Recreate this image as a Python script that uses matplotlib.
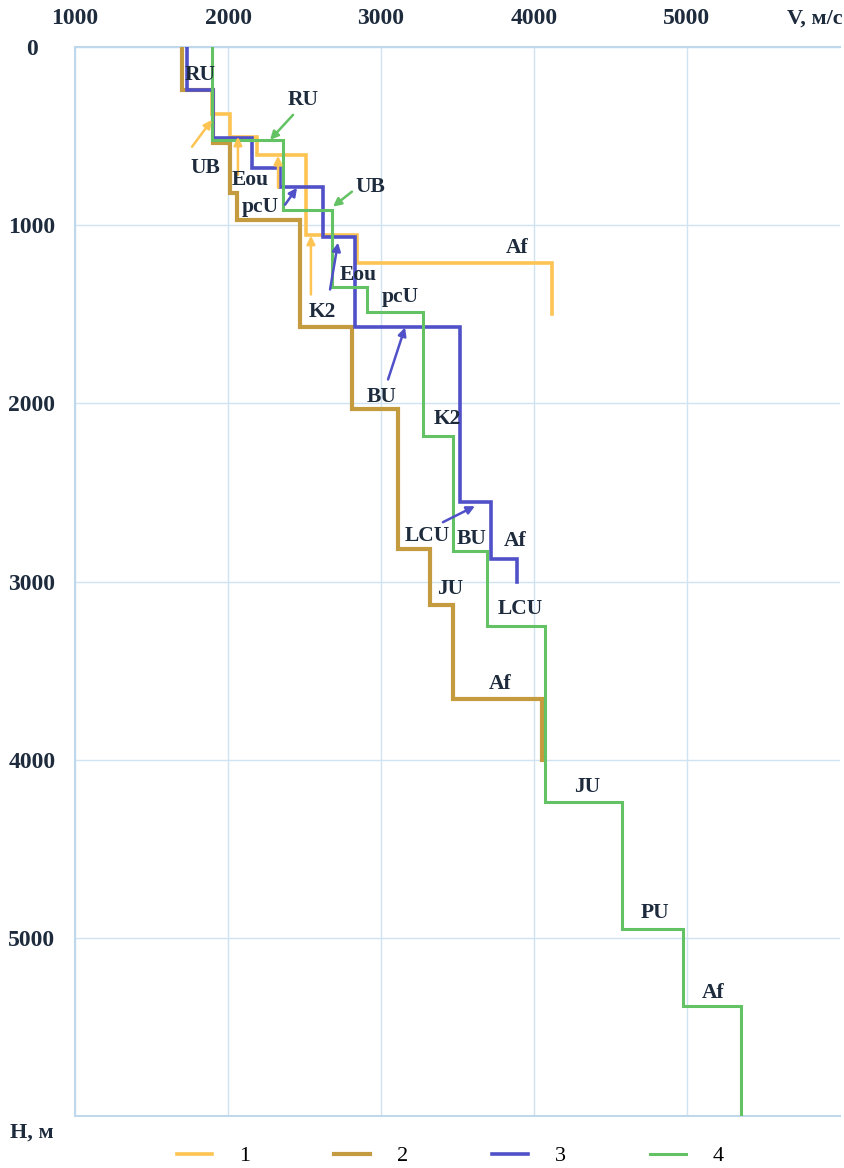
import numpy as np
import matplotlib
matplotlib.use("Agg")
import matplotlib.pyplot as plt

# depth boundaries (m) and interval velocities (m/s) for each profile
h1 = [0, 240, 375, 505, 605, 1055, 1210, 1500]
v1 = [1700, 1895, 2015, 2190, 2510, 2840, 4120]

h2 = [0, 240, 540, 820, 970, 1570, 2030, 2820, 3130, 3660, 4000]
v2 = [1700, 1900, 2010, 2060, 2470, 2810, 3110, 3320, 3470, 4050]

h3 = [0, 240, 510, 680, 785, 1065, 1570, 2555, 2875, 3000]
v3 = [1730, 1900, 2160, 2340, 2620, 2830, 3515, 3720, 3890]

h4 = [0, 520, 915, 1345, 1490, 2185, 2830, 3250, 4235, 4950, 5385, 6000]
v4 = [1895, 2360, 2680, 2910, 3275, 3470, 3690, 4070, 4575, 4975, 5355]

names = ["1", "2", "3", "4"]
colors = ["#FDC453", "#C49B3E", "#5050C8", "#63C263"]

# layer labels: text, V, H
labels = [
    ("RU", 1817, 157), ("RU", 2490, 297), ("UB", 1850, 678),
    ("Eou", 2144, 745), ("pcU", 2209, 896), ("UB", 2928, 784),
    ("K2", 2614, 1490), ("Eou", 2850, 1277), ("pcU", 3124, 1401),
    ("Af", 3889, 1126), ("BU", 3007, 1966), ("K2", 3431, 2090),
    ("LCU", 3301, 2745), ("BU", 3595, 2762), ("Af", 3876, 2773),
    ("JU", 3451, 3042), ("LCU", 3908, 3154), ("Af", 3778, 3574),
    ("JU", 4346, 4151), ("PU", 4791, 4863), ("Af", 5170, 5311),
]

# pointer arrows: (V0, H0) -> (V1, H1), series index for colour
arrows = [
    (2425, 381, 2275, 521, 3), (1765, 560, 1895, 409, 0),
    (2373, 885, 2451, 790, 2), (2810, 812, 2686, 896, 3),
    (2065, 717, 2065, 504, 0), (2327, 790, 2327, 611, 0),
    (2542, 1389, 2542, 1059, 0), (2667, 1361, 2719, 1098, 2),
    (3046, 1866, 3157, 1574, 2), (3405, 2667, 3614, 2577, 2),
]


def profile(h, v):
    hh = np.repeat(h, 2)[1:-1]
    vv = np.repeat(v, 2)
    return vv, hh


plt.rcParams['font.family'] = ['Liberation Serif', 'DejaVu Serif']

fig = plt.figure(figsize=(8.44, 11.68), dpi=100)
ax = fig.add_axes([75 / 844, 1 - 1116 / 1168, 765 / 844, 1069 / 1168])

widths = [2.6, 3.0, 2.6, 2.2]
for i, (h, v) in enumerate([(h1, v1), (h2, v2), (h3, v3), (h4, v4)]):
    x, y = profile(h, v)
    ax.plot(x, y, color=colors[i], lw=widths[i], label=names[i],
            solid_joinstyle="miter", zorder=2 + i)

for (t, x, y) in labels:
    ax.text(x, y, t, ha="center", va="center", fontsize=15.5,
            fontweight="bold", color="#1D2B3D", zorder=10)

for (x0, y0, x1, y1, c) in arrows:
    ax.annotate("", xy=(x1, y1), xytext=(x0, y0),
                arrowprops=dict(arrowstyle="-|>", color=colors[c], lw=1.8,
                                mutation_scale=12, shrinkA=0, shrinkB=0),
                zorder=9)

ax.set_xlim(1000, 6000)
ax.set_ylim(6000, 0)
ax.xaxis.tick_top()
ax.set_xticks([1000, 2000, 3000, 4000, 5000])
ax.set_yticks([0, 1000, 2000, 3000, 4000, 5000])
ax.tick_params(length=0, labelsize=17, colors="#1D2B3D")
ax.tick_params(axis="y", pad=31)
ax.tick_params(axis="x", pad=13)
for lab in ax.get_yticklabels():
    lab.set_horizontalalignment("center")
    lab.set_fontweight("bold")
for lab in ax.get_xticklabels():
    lab.set_fontweight("bold")

ax.grid(True, color="#CFE3F2", lw=1.0)
ax.set_axisbelow(True)
for s in ["top", "left", "bottom"]:
    ax.spines[s].set_color("#BFD8EC")
    ax.spines[s].set_linewidth(1.5)
ax.spines["right"].set_visible(False)

ax.text(1.004, 1.0 + 28 / 1069, "V, м/с", transform=ax.transAxes,
        ha="right", va="center", fontsize=16, fontweight="bold",
        color="#1D2B3D")
ax.text(-43 / 765, -17 / 1069, "H, м", transform=ax.transAxes,
        ha="center", va="center", fontsize=16, fontweight="bold",
        color="#1D2B3D")

fig.legend(loc="center", bbox_to_anchor=(450 / 844, 12 / 1168), ncol=4,
           frameon=False, fontsize=16, handlelength=1.6, handletextpad=1.2,
           columnspacing=3.8, borderaxespad=0)

fig.savefig("out.png", dpi=100)
